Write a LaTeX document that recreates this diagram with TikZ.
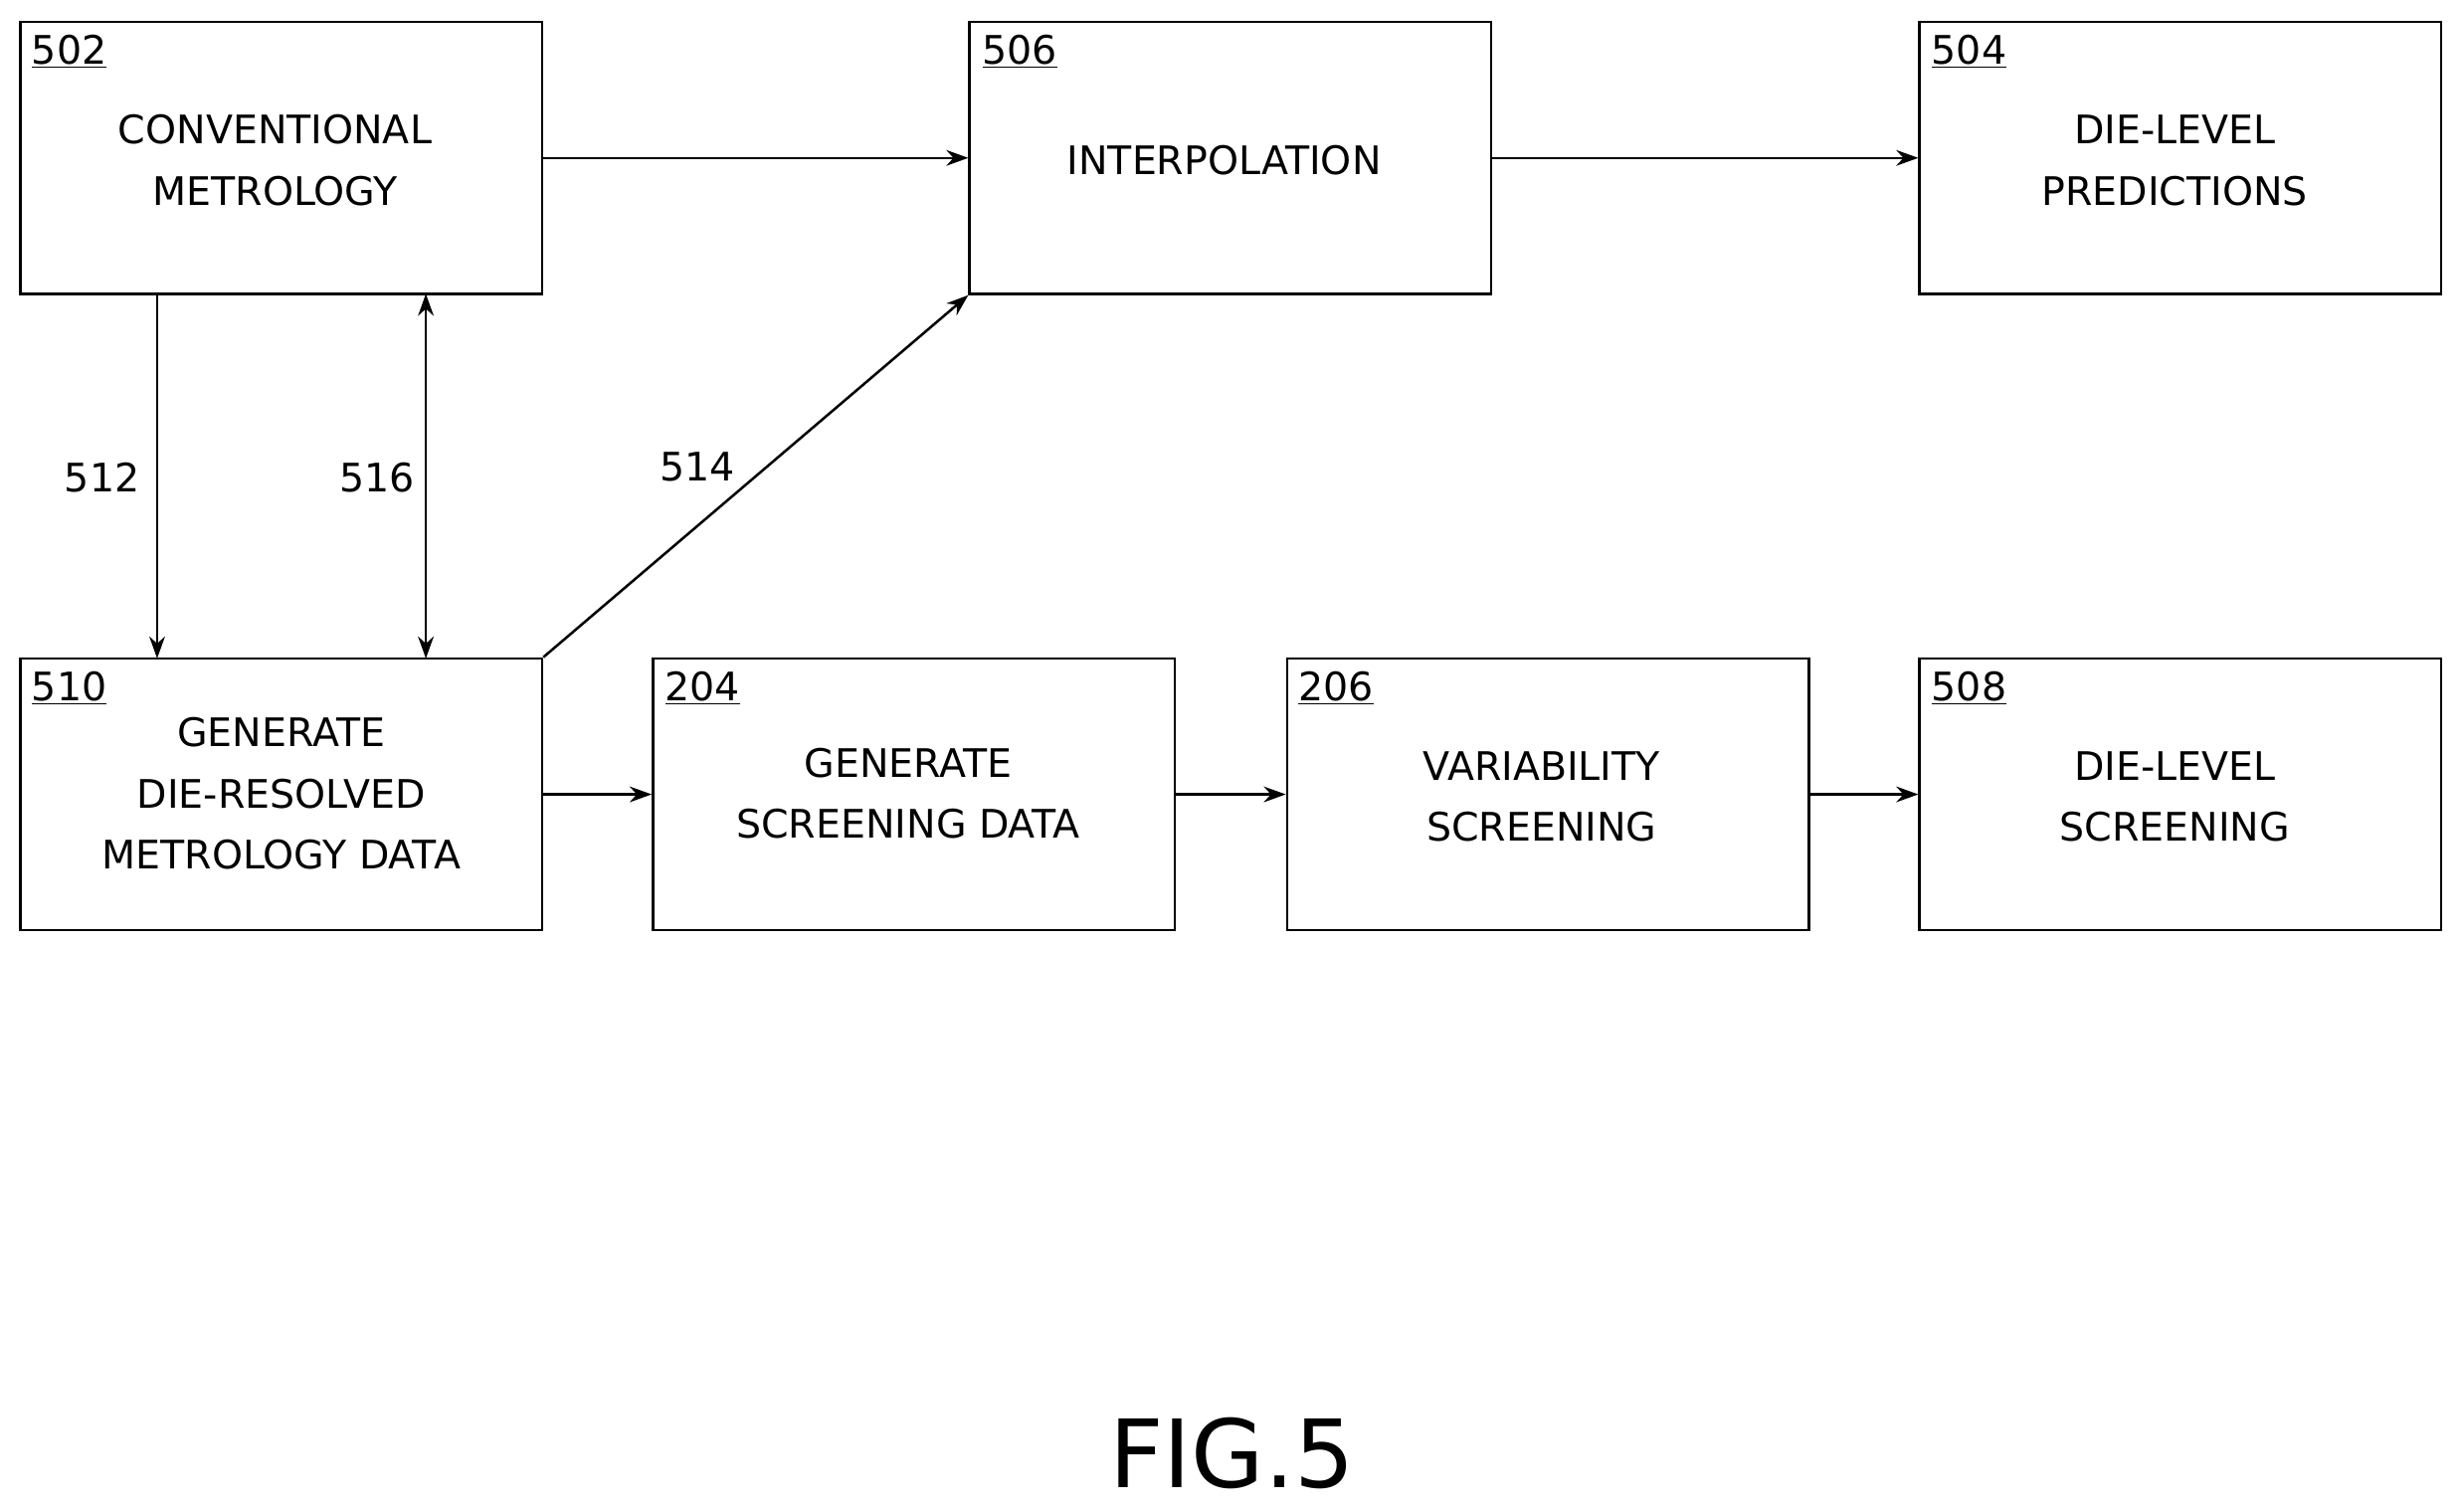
\documentclass[tikz,border=0pt]{standalone}
\usepackage{fontspec}
\setmainfont{DejaVu Sans}
\usetikzlibrary{arrows.meta}
\begin{document}
\begin{tikzpicture}[x=1pt,y=-1pt,
  box/.style={draw,line width=1.6pt,minimum width=332pt,minimum height=173pt,inner sep=0pt},
  txt/.style={font=\fontsize{25}{39}\selectfont,align=center},
  num/.style={font=\fontsize{25}{30}\selectfont,anchor=north west,inner sep=0pt},
  arr/.style={line width=1.6pt,-{Stealth[length=14pt,width=10pt]}},
  lbl/.style={font=\fontsize{25}{30}\selectfont}]
\useasboundingbox (0,0) rectangle (1568,962);
\node[box] (b502) at (179,100.5) {};
\node[box] (b506) at (783,100.5) {};
\node[box] (b504) at (1387.5,100.5) {};
\node[box] (b510) at (179,505.5) {};
\node[box] (b204) at (581.5,505.5) {};
\node[box] (b206) at (985,505.5) {};
\node[box] (b508) at (1387.5,505.5) {};
\node[num] at (20,22) {\underline{502}};
\node[num] at (625,22) {\underline{506}};
\node[num] at (1229,22) {\underline{504}};
\node[num] at (20,427) {\underline{510}};
\node[num] at (423,427) {\underline{204}};
\node[num] at (826,427) {\underline{206}};
\node[num] at (1229,427) {\underline{508}};
\node[txt] (t502) at (175,102) {CONVENTIONAL\\METROLOGY};
\node[txt] (t506) at (779,102) {INTERPOLATION};
\node[txt] (t504) at (1384,102) {DIE-LEVEL\\PREDICTIONS};
\node[txt] (t510) at (179,505) {GENERATE\\DIE-RESOLVED\\METROLOGY DATA};
\node[txt] (t204) at (578,505) {GENERATE\\SCREENING DATA};
\node[txt] (t206) at (981,507) {VARIABILITY\\SCREENING};
\node[txt] (t508) at (1384,507) {DIE-LEVEL\\SCREENING};
\coordinate (a1) at (100,187); \coordinate (a2) at (100,419);
\coordinate (c1) at (271,187); \coordinate (c2) at (271,419);
\draw[arr] (b502.east) -- (b506.west);
\draw[arr] (b506.east) -- (b504.west);
\draw[arr] (a1) -- (a2);
\draw[arr,{Stealth[length=14pt,width=10pt]}-{Stealth[length=14pt,width=10pt]}] (c1) -- (c2);
\draw[arr] (b510.north east) -- (b506.south west);
\draw[arr] (b510.east) -- (b204.west);
\draw[arr] (b204.east) -- (b206.west);
\draw[arr] (b206.east) -- (b508.west);
\node[lbl] (l512) at (65,304) {512};
\node[lbl] (l516) at (240,304) {516};
\node[lbl] (l514) at (444,297) {514};
\node[font=\fontsize{60}{70}\selectfont] (fig) at (784,925) {FIG.5};
\end{tikzpicture}
\end{document}
